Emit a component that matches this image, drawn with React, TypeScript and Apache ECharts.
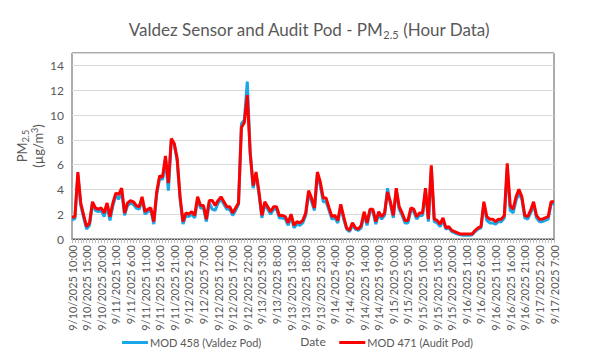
import React, { useEffect, useRef } from "react";
import * as echarts from "echarts";

const startDate = { year: 2025, month: 9, day: 10, hour: 10 };
const hourCount = 166;

const categories: string[] = [];
{
  let d = startDate.day;
  let h = startDate.hour;
  for (let i = 0; i < hourCount; i++) {
    categories.push(`${startDate.month}/${d}/${startDate.year} ${h}:00`);
    h += 1;
    if (h === 24) {
      h = 0;
      d += 1;
    }
  }
}

const yTicks = [0, 2, 4, 6, 8, 10, 12, 14];

const mod458Valdez = [
  1.55, 1.65, 5.2, 2.7, 1.7, 0.8, 1.1, 2.8, 2.3, 2.2,
  2.3, 1.8, 2.7, 1.5, 2.7, 3.5, 3.2, 3.9, 1.9, 2.7,
  2.9, 2.8, 2.5, 2.4, 3.2, 2.0, 2.2, 2.3, 1.2, 3.6,
  4.9, 4.8, 6.4, 3.9, 8.0, 7.6, 6.3, 3.2, 1.2, 1.9,
  1.8, 2.0, 1.7, 3.2, 2.5, 2.5, 1.4, 2.9, 2.4, 2.3,
  2.9, 3.2, 2.8, 2.4, 2.4, 1.9, 2.3, 2.8, 9.3, 9.6,
  12.7, 7.0, 4.1, 5.2, 3.6, 1.7, 2.8, 2.4, 2.0, 2.4,
  2.4, 1.7, 1.7, 1.6, 1.1, 1.8, 0.9, 1.2, 1.1, 1.3,
  1.9, 3.7, 3.0, 2.3, 5.2, 4.3, 3.0, 3.0, 2.3, 1.6,
  1.7, 1.3, 2.6, 1.6, 0.8, 0.6, 1.1, 0.8, 0.7, 0.9,
  2.0, 1.1, 2.2, 2.2, 1.2, 2.0, 1.6, 1.9, 4.1, 2.8,
  1.7, 3.9, 2.4, 1.9, 1.3, 1.3, 2.3, 2.2, 1.6, 1.9,
  1.9, 3.9, 1.4, 5.7, 1.4, 1.3, 1.0, 1.5, 0.8, 0.9,
  0.6, 0.5, 0.4, 0.35, 0.3, 0.3, 0.3, 0.35, 0.6, 0.8,
  0.9, 2.8, 1.5, 1.3, 1.3, 1.2, 1.4, 1.4, 1.7, 5.7,
  2.3, 2.1, 3.1, 3.7, 3.2, 1.7, 1.6, 2.1, 2.8, 1.7,
  1.4, 1.4, 1.5, 1.6, 2.8, 2.9,
];

const mod471Audit = [
  1.75, 1.8, 5.4, 2.9, 1.9, 1.0, 1.3, 3.0, 2.5, 2.4,
  2.5, 2.1, 2.9, 1.8, 2.9, 3.7, 3.6, 4.1, 2.1, 2.9,
  3.1, 3.0, 2.7, 2.6, 3.4, 2.2, 2.4, 2.5, 1.4, 3.8,
  5.1, 5.0, 6.7, 4.5, 8.1, 7.7, 6.5, 3.4, 1.4, 2.1,
  2.0, 2.2, 1.9, 3.4, 2.7, 2.7, 1.6, 3.1, 3.1, 2.7,
  3.1, 3.4, 3.0, 2.6, 2.6, 2.1, 2.5, 2.9, 9.0, 9.4,
  11.6, 6.9, 4.3, 5.4, 3.8, 1.9, 3.0, 2.6, 2.2, 2.6,
  2.6, 1.9, 1.9, 1.8, 1.3, 2.0, 1.1, 1.4, 1.3, 1.5,
  2.1, 3.9, 3.3, 2.5, 5.4, 4.6, 3.3, 3.3, 2.5, 1.8,
  1.9, 1.5, 2.8, 1.8, 0.9, 0.7, 1.3, 0.9, 0.8, 1.1,
  2.2, 1.3, 2.4, 2.4, 1.4, 2.2, 1.8, 2.1, 3.8, 3.0,
  1.9, 4.1, 2.6, 2.1, 1.5, 1.5, 2.5, 2.4, 1.8, 2.1,
  2.1, 4.1, 1.6, 5.95, 1.6, 1.5, 1.2, 1.7, 0.9, 1.0,
  0.7, 0.6, 0.5, 0.4, 0.4, 0.4, 0.4, 0.4, 0.7, 0.9,
  1.0, 3.0, 1.8, 1.6, 1.6, 1.4, 1.6, 1.6, 1.9, 6.1,
  2.7, 2.4, 3.4, 4.0, 3.4, 1.9, 1.8, 2.3, 3.0, 1.9,
  1.6, 1.6, 1.7, 1.8, 3.0, 3.0,
];

const FONT = "Lato, 'Open Sans', sans-serif";
const TXT = "#595959";

export default function App() {
  const ref = useRef<HTMLDivElement>(null);

  useEffect(() => {
    if (!ref.current) return;
    const chart = echarts.init(ref.current, undefined, { renderer: "svg" });
    chart.setOption({
      animation: false,
      backgroundColor: "#ffffff",
      title: {
        text: "Valdez Sensor and Audit Pod - PM{s|2.5} (Hour Data)",
        left: 304,
        textAlign: "center",
        top: 14,
        textStyle: {
          fontFamily: FONT,
          fontSize: 17,
          fontWeight: "normal",
          color: TXT,
          rich: {
            s: {
              fontFamily: FONT,
              fontSize: 11,
              color: TXT,
              padding: [10, 0, 0, 0],
            },
          },
        },
      },
      legend: {
        left: 117,
        top: 332,
        icon: "rect",
        itemWidth: 26,
        itemHeight: 3,
        itemGap: 78,
        textStyle: { fontFamily: FONT, fontSize: 11, color: TXT, padding: [0, 0, 0, -3] },
        data: ["MOD 458 (Valdez Pod)", "MOD 471 (Audit Pod)"],
      },
      grid: {
        left: 72,
        right: 46,
        top: 53,
        bottom: 116,
        outerBoundsMode: "none",
        containLabel: false,
        show: true,
        borderColor: "#595959",
        borderWidth: 1,
        backgroundColor: "transparent",
      },
      xAxis: {
        type: "category",
        data: categories,
        boundaryGap: false,
        name: "Date",
        nameLocation: "middle",
        nameMoveOverlap: false,
        nameGap: 96,
        nameTextStyle: { fontFamily: FONT, fontSize: 12, color: TXT },
        axisLine: { show: true, lineStyle: { color: "#595959", width: 1 } },
        axisTick: {
          show: true,
          interval: 0,
          length: 4,
          lineStyle: { color: "#bfbfbf" },
        },
        axisLabel: {
          interval: 4,
          rotate: 90,
          margin: 6,
          fontFamily: FONT,
          fontSize: 11,
          color: TXT,
        },
        splitLine: { show: false },
      },
      yAxis: {
        type: "value",
        min: 0,
        max: 15,
        interval: 2,
        name: "{a|PM}{s|2.5}\n{a|(µg/m}{p|3}{a|)}",
        nameLocation: "middle",
        nameMoveOverlap: false,
        nameRotate: 90,
        nameGap: 26,
        nameTextStyle: {
          fontFamily: FONT,
          fontSize: 13,
          color: TXT,
          rich: {
            a: { fontFamily: FONT, fontSize: 13, color: TXT, lineHeight: 16 },
            s: {
              fontFamily: FONT,
              fontSize: 9,
              color: TXT,
              padding: [7, 0, 0, 0],
              lineHeight: 16,
            },
            p: {
              fontFamily: FONT,
              fontSize: 9,
              color: TXT,
              padding: [0, 0, 7, 0],
              lineHeight: 16,
            },
          },
        },
        axisLine: { show: false },
        axisTick: { show: false },
        axisLabel: {
          showMaxLabel: false,
          margin: 8,
          fontFamily: FONT,
          fontSize: 12,
          color: TXT,
          formatter: (v: number) => (yTicks.includes(v) ? String(v) : ""),
        },
        splitLine: { show: true, lineStyle: { color: "#d9d9d9", width: 1 } },
      },
      series: [
        {
          name: "MOD 458 (Valdez Pod)",
          type: "line",
          data: mod458Valdez,
          symbol: "none",
          lineStyle: { color: "#1aa7e8", width: 3 },
          itemStyle: { color: "#1aa7e8" },
          z: 2,
        },
        {
          name: "MOD 471 (Audit Pod)",
          type: "line",
          data: mod471Audit,
          symbol: "none",
          lineStyle: { color: "#ff0000", width: 3 },
          itemStyle: { color: "#ff0000" },
          z: 3,
        },
      ],
    });
    return () => chart.dispose();
  }, []);

  return (
    <div
      style={{
        position: "fixed",
        left: 0,
        top: 0,
        width: 600,
        height: 355,
        boxSizing: "border-box",
        border: "1px solid #1a1a1a",
        background: "#fff",
      }}
    >
      <div ref={ref} style={{ position: "absolute", left: -1, top: -1, width: 600, height: 355 }} />
    </div>
  );
}
